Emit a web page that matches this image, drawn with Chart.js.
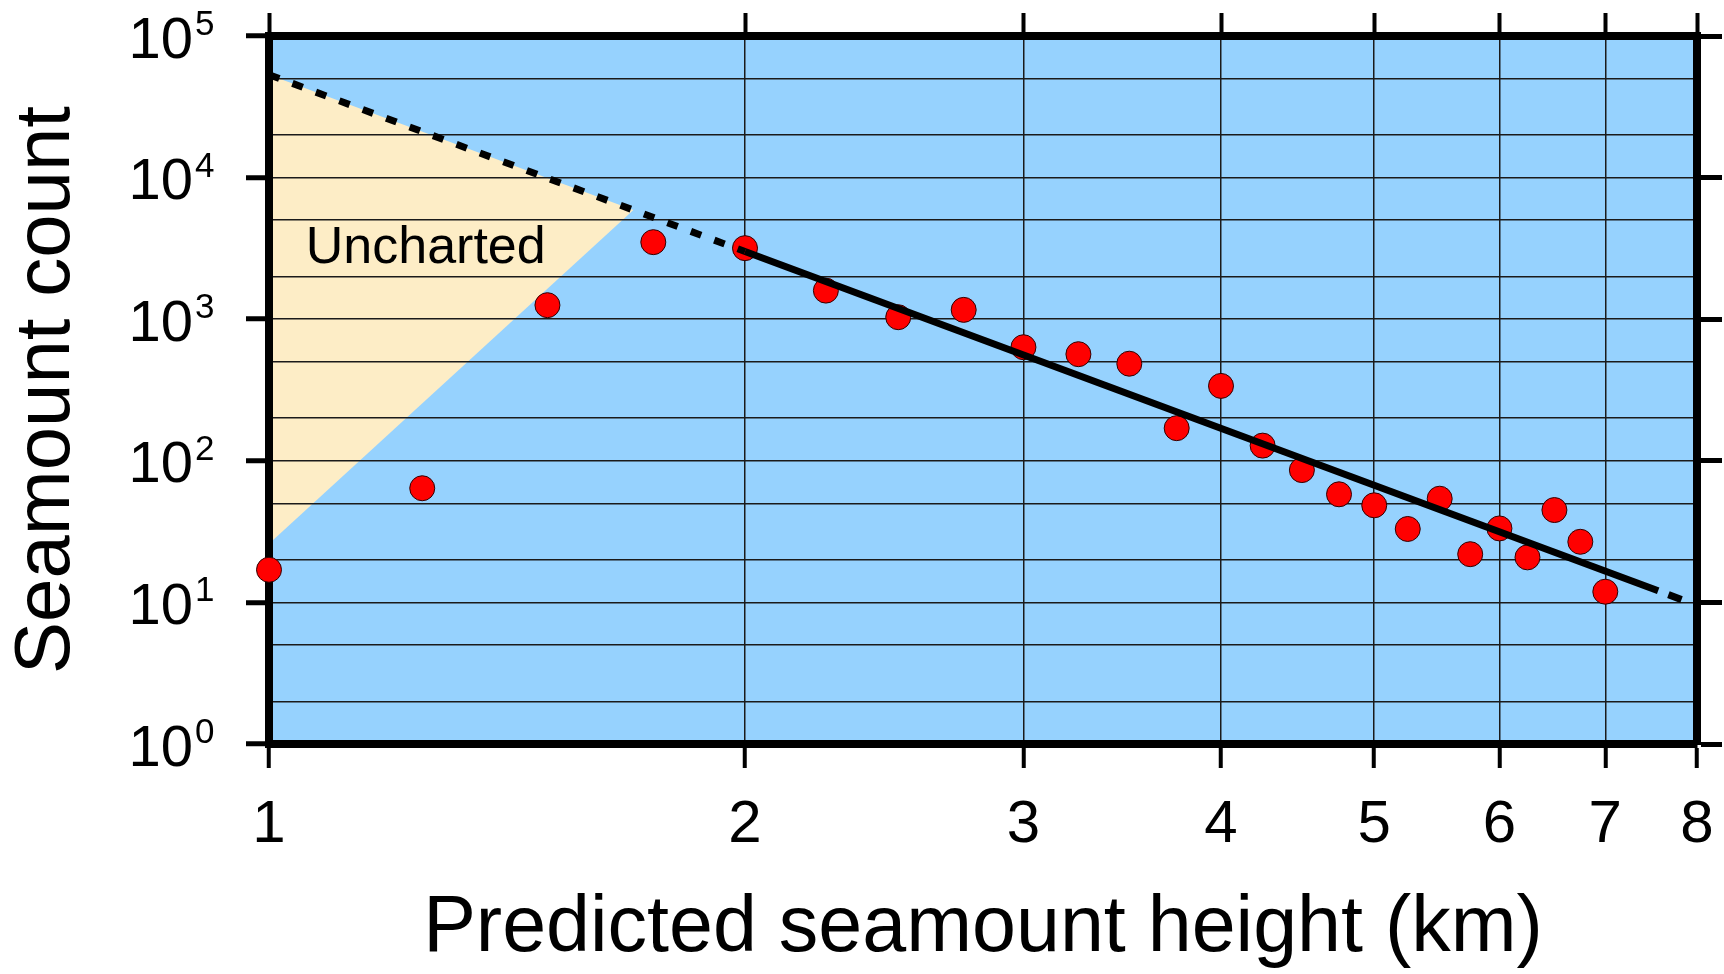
<!DOCTYPE html>
<html>
<head>
<meta charset="utf-8">
<script src="https://cdn.jsdelivr.net/npm/chart.js@4"></script>
<style>
html, body { margin: 0; padding: 0; background: #ffffff; overflow: hidden; }
#wrap { position: relative; width: 1724px; height: 974px; }
#plotbg { position: absolute; background: #96D2FE; z-index: 0; }
#chart { position: absolute; left: 0; top: 0; z-index: 1; }
</style>
</head>
<body>
<div id="wrap"><div id="plotbg"></div><canvas id="chart" width="1724" height="974"></canvas></div>
<script>
// ---- data ----
const heights = [1, 1.25, 1.5, 1.75, 2, 2.25, 2.5, 2.75, 3, 3.25, 3.5, 3.75, 4, 4.25, 4.5, 4.75, 5, 5.25, 5.5, 5.75, 6, 6.25, 6.5, 6.75, 7];
const counts  = [17, 64, 1256, 3500, 3175, 1592, 1033, 1164, 634, 566, 485, 170, 338, 128, 86, 58, 48.5, 33, 54, 21.9, 33.3, 20.8, 44.9, 26.8, 11.9];
const fitHeights = [1, 2, 7.56, 7.85];
const fitCounts  = [53300, 3006, 12.1, 10.3];
const unchartedHeights = [1, 1.70, 1];
const unchartedCounts  = [53300, 5900, 26];
const xTickValues = [1, 2, 3, 4, 5, 6, 7, 8];
const xTickLabels = ['1', '2', '3', '4', '5', '6', '7', '8'];
const yTickValues = [1, 10, 100, 1000, 10000, 100000];
const yTickBases = ['10', '10', '10', '10', '10', '10'];
const yTickExponents = ['0', '1', '2', '3', '4', '5'];
const yGridValues = [1, 2, 5, 10, 20, 50, 100, 200, 500, 1000, 2000, 5000, 10000, 20000, 50000, 100000];
const xTitle = 'Predicted seamount height (km)';
const yTitle = 'Seamount count';
const regionLabel = 'Uncharted';
const regionLabelAt = { x: 1.055, y: 2480 };

// ---- styling / drawing ----
const FONT = "'Liberation Sans', Arial, Helvetica, sans-serif";
const GRID = '#1a1a1a';

const bgPlugin = {
  id: 'plotbg',
  afterLayout(chart) {
    const a = chart.chartArea;
    const el = document.getElementById('plotbg');
    el.style.left = a.left + 'px';
    el.style.top = a.top + 'px';
    el.style.width = (a.right - a.left) + 'px';
    el.style.height = (a.bottom - a.top) + 'px';
  }
};

const labelsPlugin = {
  id: 'customLabels',
  afterDraw(chart) {
    const ctx = chart.ctx;
    const ys = chart.scales.y;
    const xs = chart.scales.x;
    ctx.save();
    ctx.fillStyle = '#000';
    ctx.textBaseline = 'alphabetic';
    yTickValues.forEach((v, i) => {
      const py = ys.getPixelForValue(v);
      ctx.font = '58px ' + FONT;
      ctx.textAlign = 'right';
      ctx.fillText(yTickBases[i], ys.right - 76, py + 21.5);
      ctx.font = '35px ' + FONT;
      ctx.textAlign = 'left';
      ctx.fillText(yTickExponents[i], ys.right - 74, py - 1);
    });
    ctx.font = '52px ' + FONT;
    ctx.textAlign = 'left';
    ctx.fillText(regionLabel, xs.getPixelForValue(regionLabelAt.x), ys.getPixelForValue(regionLabelAt.y));
    ctx.restore();
  }
};

const border = { display: true, color: '#000', width: 8 };

new Chart(document.getElementById('chart'), {
  type: 'scatter',
  data: {
    datasets: [
      {
        label: 'Fit',
        data: fitHeights.map((x, i) => ({ x: x, y: fitCounts[i] })),
        showLine: true,
        borderColor: '#000',
        borderWidth: 7,
        borderCapStyle: 'butt',
        pointRadius: 0,
        tension: 0,
        fill: false,
        clip: false,
        segment: {
          borderDash: c => (c.p0DataIndex === 1 ? [] : (c.p0DataIndex === 0 ? [11, 14] : [14, 11])),
          borderDashOffset: c => (c.p0DataIndex === 2 ? 14 : 0)
        },
        order: 0
      },
      {
        label: 'Seamounts',
        data: heights.map((x, i) => ({ x: x, y: counts[i] })),
        pointRadius: 12.5,
        pointHoverRadius: 12.5,
        backgroundColor: '#FF0000',
        borderColor: '#300000',
        borderWidth: 1,
        clip: false,
        order: 1
      },
      {
        label: 'Uncharted',
        data: unchartedHeights.map((x, i) => ({ x: x, y: unchartedCounts[i] })),
        showLine: true,
        fill: 'shape',
        backgroundColor: '#FDEDC6',
        borderColor: 'rgba(0,0,0,0)',
        borderWidth: 0,
        pointRadius: 0,
        tension: 0,
        order: 2
      }
    ]
  },
  options: {
    responsive: false,
    animation: false,
    devicePixelRatio: 1,
    events: [],
    layout: { padding: 0 },
    plugins: {
      legend: { display: false },
      tooltip: { enabled: false },
      filler: { drawTime: 'beforeDraw' }
    },
    scales: {
      x: {
        type: 'logarithmic', position: 'bottom', min: 1, max: 8,
        afterBuildTicks: s => { s.ticks = xTickValues.map(v => ({ value: v })); },
        afterFit: s => { s.height = 230; s.paddingLeft = 0; s.paddingRight = 0; },
        grid: { color: GRID, lineWidth: 1.5, tickLength: 24, tickWidth: 4, tickColor: '#000' },
        border: border,
        ticks: {
          autoSkip: false, maxRotation: 0, minRotation: 0, padding: 27, color: '#000',
          font: { family: FONT, size: 60, lineHeight: 1 },
          callback: v => { const i = xTickValues.indexOf(v); return i >= 0 ? xTickLabels[i] : ''; }
        },
        title: { display: true, text: xTitle, color: '#000', font: { family: FONT, size: 79, lineHeight: 1 }, padding: { top: 0, bottom: 5 } }
      },
      x2: {
        type: 'logarithmic', position: 'top', min: 1, max: 8,
        afterBuildTicks: s => { s.ticks = xTickValues.map(v => ({ value: v })); },
        afterFit: s => { s.height = 36; s.paddingLeft = 0; s.paddingRight = 0; },
        grid: { drawOnChartArea: false, color: '#000', tickLength: 23, tickWidth: 4, tickColor: '#000' },
        border: border,
        ticks: { display: false }
      },
      y: {
        type: 'logarithmic', position: 'left', min: 1, max: 100000,
        afterBuildTicks: s => { s.ticks = yGridValues.map(v => ({ value: v })); },
        afterFit: s => { s.width = 269; s.paddingTop = 0; s.paddingBottom = 0; },
        grid: {
          color: GRID, lineWidth: 1.5, tickLength: 23, tickWidth: 5,
          tickColor: c => (c.tick && yTickValues.includes(c.tick.value) ? '#000' : 'rgba(0,0,0,0)')
        },
        border: border,
        ticks: { display: false },
        title: { display: true, text: yTitle, color: '#000', font: { family: FONT, size: 78, lineHeight: 1 }, padding: { top: 8, bottom: 0 } }
      },
      y2: {
        type: 'logarithmic', position: 'right', min: 1, max: 100000,
        afterBuildTicks: s => { s.ticks = yTickValues.map(v => ({ value: v })); },
        afterFit: s => { s.width = 27; s.paddingTop = 0; s.paddingBottom = 0; },
        grid: { drawOnChartArea: false, color: '#000', tickLength: 25, tickWidth: 5, tickColor: '#000' },
        border: border,
        ticks: { display: false }
      }
    }
  },
  plugins: [bgPlugin, labelsPlugin]
});
</script>
</body>
</html>
